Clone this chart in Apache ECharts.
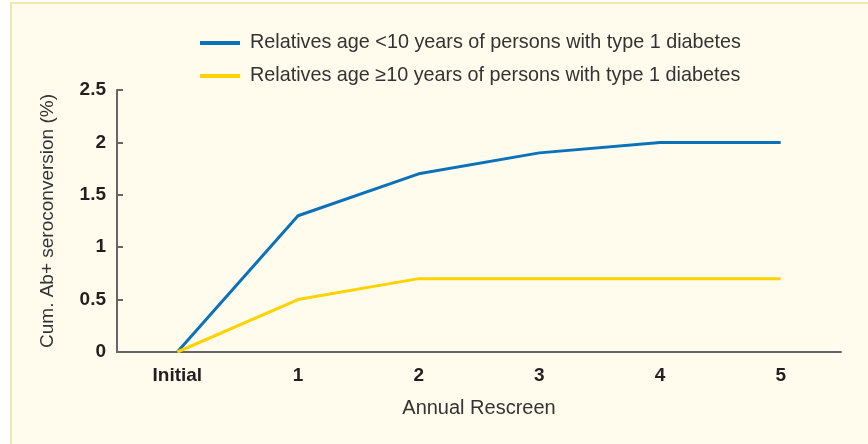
<!DOCTYPE html>
<html>
<head>
<meta charset="utf-8">
<script src="https://cdn.jsdelivr.net/npm/echarts@6/dist/echarts.min.js"></script>
<style>
    html,body{margin:0;padding:0;background:#ffffff;overflow:hidden;}
    #frame{
        position:absolute;left:10px;top:2px;width:900px;height:480px;
        box-sizing:border-box;
        border-left:2px solid #f0e8b0;border-top:2px solid #f0e8b0;
        background:#fffcee;
    }
    #chart{position:absolute;left:0;top:0;width:868px;height:444px;}
</style>
</head>
<body>
<div id="frame"></div>
<div id="chart"></div>
<script>
    // categories and series
    const categories = ['Initial', '1', '2', '3', '4', '5'];
    const under10 = [0, 1.3, 1.7, 1.9, 2.0, 2.0];
    const over10 = [0, 0.5, 0.7, 0.7, 0.7, 0.7];
    const names = [
        'Relatives age <10 years of persons with type 1 diabetes',
        'Relatives age \u226510 years of persons with type 1 diabetes'
    ];

    const font = '"Liberation Sans", sans-serif';
    const axisLine = {lineStyle: {color: '#666666', width: 2}};

    const chart = echarts.init(document.getElementById('chart'));
    chart.setOption({
        backgroundColor: 'transparent',
        animation: false,
        legend: {
            orient: 'vertical',
            left: 195,
            top: 28,
            itemWidth: 40,
            itemHeight: 4,
            itemGap: 13,
            icon: 'rect',
            textStyle: {color: '#333333', fontSize: 19.8, fontFamily: font, padding: [0, 0, 0, 5]},
            data: names
        },
        grid: {left: 117, right: 27, top: 90, bottom: 92},
        xAxis: {
            type: 'category',
            data: categories,
            boundaryGap: true,
            name: 'Annual Rescreen',
            nameLocation: 'middle',
            nameGap: 46,
            nameTextStyle: {color: '#333333', fontSize: 20, fontFamily: font},
            axisLine,
            axisTick: {show: false},
            axisLabel: {color: '#231f20', fontSize: 19, fontWeight: 'bold', fontFamily: font, margin: 14}
        },
        yAxis: {
            type: 'value',
            min: 0,
            max: 2.5,
            interval: 0.5,
            name: 'Cum. Ab+ seroconversion (%)',
            nameLocation: 'middle',
            nameGap: 60,
            nameTextStyle: {color: '#333333', fontSize: 19, fontFamily: font},
            axisLine: {show: true, lineStyle: {color: '#666666', width: 2}},
            axisTick: {show: true, inside: true, length: 6, lineStyle: {color: '#666666', width: 2}},
            splitLine: {show: false},
            axisLabel: {color: '#231f20', fontSize: 19, fontWeight: 'bold', fontFamily: font, margin: 11}
        },
        series: [
            {
                name: names[0],
                type: 'line',
                data: under10,
                symbol: 'none',
                lineStyle: {color: '#0b72b9', width: 3},
                itemStyle: {color: '#0b72b9'}
            },
            {
                name: names[1],
                type: 'line',
                data: over10,
                symbol: 'none',
                lineStyle: {color: '#ffd200', width: 3},
                itemStyle: {color: '#ffd200'}
            }
        ]
    });
</script>
</body>
</html>
